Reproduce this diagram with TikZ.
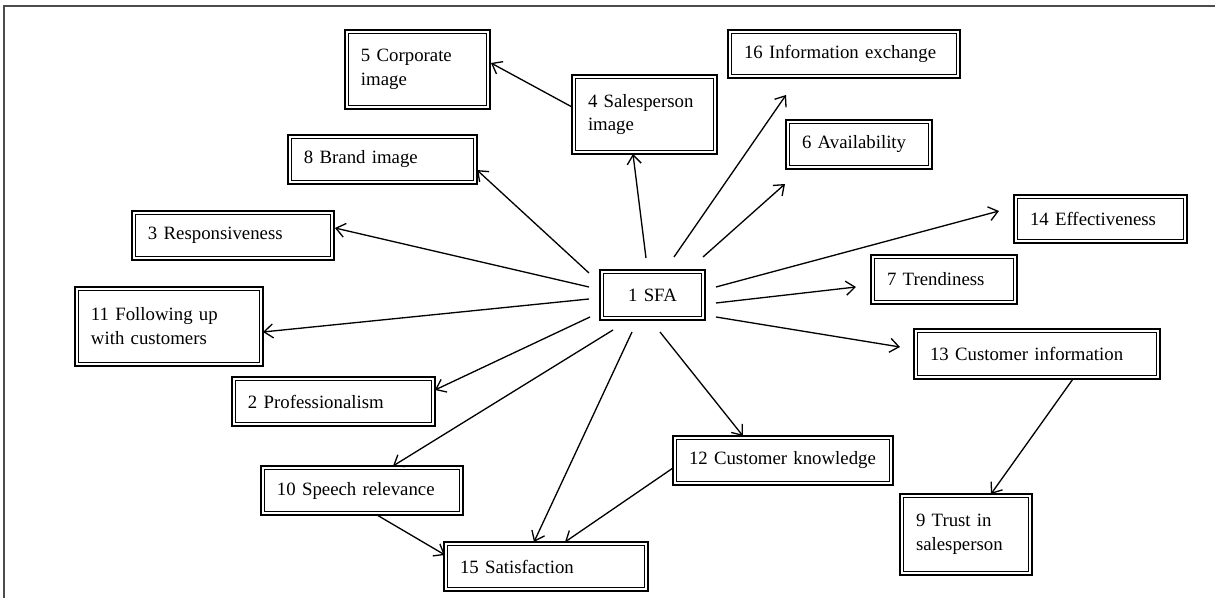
\documentclass[tikz,border=0pt]{standalone}
\usepackage{fontspec}
\setmainfont{Liberation Serif}
\usetikzlibrary{arrows.meta}
\newcommand{\bxfont}{\fontsize{10.7}{13.6}\selectfont}

\begin{document}
\begin{tikzpicture}[x=0.02cm, y=-0.02cm,
  box/.style={draw, line width=1.3pt, outer sep=0pt, inner xsep=0.32cm, inner ysep=0pt,
    anchor=north west, align=left, font=\bxfont,
    path picture={\draw[line width=0.55pt] ([shift={(1.9pt,-1.9pt)}]path picture bounding box.north west)
      rectangle ([shift={(-1.9pt,1.9pt)}]path picture bounding box.south east);}},
  arr/.style={-{Straight Barb[length=1.8mm,width=2.8mm]}, line width=0.75pt}]
\useasboundingbox (0,0) rectangle (1215,598);
\draw[line width=0.8pt, black!70] (4,598) -- (4,6) -- (1215,6);

\node[box, align=center, text width=1.46cm, minimum height=1.00cm] (sfa) at (600,270) {1 SFA};
\node[box, text width=2.26cm, minimum height=1.58cm] (n5) at (345,30) {5 Corporate\\image};
\node[box, text width=2.26cm, minimum height=1.58cm] (n4) at (572,75) {4 Salesperson\\image};
\node[box, text width=4.00cm, minimum height=0.96cm] (n16) at (728,30) {16 Information exchange};
\node[box, text width=3.14cm, minimum height=0.98cm] (n8) at (288,135) {8 Brand image};
\node[box, text width=2.28cm, minimum height=0.98cm] (n6) at (786,120) {6 Availability};
\node[box, text width=3.40cm, minimum height=0.98cm] (n3) at (132,211) {3 Responsiveness};
\node[box, text width=2.82cm, minimum height=0.96cm] (n14) at (1014,195) {14 Effectiveness};
\node[box, text width=2.28cm, minimum height=0.98cm] (n7) at (871,255) {7 Trendiness};
\node[box, text width=3.12cm, minimum height=1.58cm] (n11) at (75,287) {11 Following up\\with customers};
\node[box, text width=3.42cm, minimum height=0.98cm] (n2) at (232,377) {2 Professionalism};
\node[box, text width=4.28cm, minimum height=1.00cm] (n13) at (914,329) {13 Customer information};
\node[box, text width=3.76cm, minimum height=0.98cm] (n12) at (673,436) {12 Customer knowledge};
\node[box, text width=3.40cm, minimum height=0.98cm] (n10) at (261,466) {10 Speech relevance};
\node[box, text width=2.00cm, minimum height=1.62cm] (n9) at (900,494) {9 Trust in\\salesperson};
\node[box, text width=3.44cm, minimum height=0.98cm] (n15) at (444,542) {15 Satisfaction};

\draw[arr] ([shift={(-6.5,-12)}]sfa.north) -- ([shift={(-11.5,0)}]n4.south);
\draw[arr] ([shift={(-11,3)}]sfa.north west) -- ([shift={(0,10.5)}]n8.east);
\draw[arr] ([shift={(-11,-8)}]sfa.west) -- ([shift={(1,-7.5)}]n3.east);
\draw[arr] ([shift={(-11,4)}]sfa.west) -- ([shift={(0,5.5)}]n11.east);
\draw[arr] ([shift={(-10,-3)}]sfa.south west) -- ([shift={(0,-11.5)}]n2.east);
\draw[arr] ([shift={(13,10)}]sfa.south west) -- ([shift={(31,0)}]n10.north);
\draw[arr] ([shift={(-20.5,12)}]sfa.south) -- ([shift={(-12,0)}]n15.north);
\draw[arr] ([shift={(7.5,12)}]sfa.south) -- ([shift={(-40,0)}]n12.north);
\draw[arr] ([shift={(11,22)}]sfa.east) -- ([shift={(-14,-7)}]n13.west);
\draw[arr] ([shift={(11,8)}]sfa.east) -- ([shift={(-15,7.5)}]n7.west);
\draw[arr] ([shift={(11,-8)}]sfa.east) -- ([shift={(-15,-8)}]n14.west);
\draw[arr] ([shift={(-2,-13)}]sfa.north east) -- ([shift={(-1,15)}]n6.south west);
\draw[arr] ([shift={(21.5,-13)}]sfa.north) -- ([shift={(58,17)}]n16.south west);
\draw[arr] ([shift={(0,-7.5)}]n4.west) -- ([shift={(1,-6.5)}]n5.east);
\draw[arr] ([shift={(36,0)}]n13.south) -- ([shift={(25,0)}]n9.north);
\draw[arr] ([shift={(15,0)}]n10.south) -- ([shift={(1,-11.5)}]n15.west);
\draw[arr] ([shift={(0,7.5)}]n12.west) -- ([shift={(19,0)}]n15.north);
\end{tikzpicture}
\end{document}
